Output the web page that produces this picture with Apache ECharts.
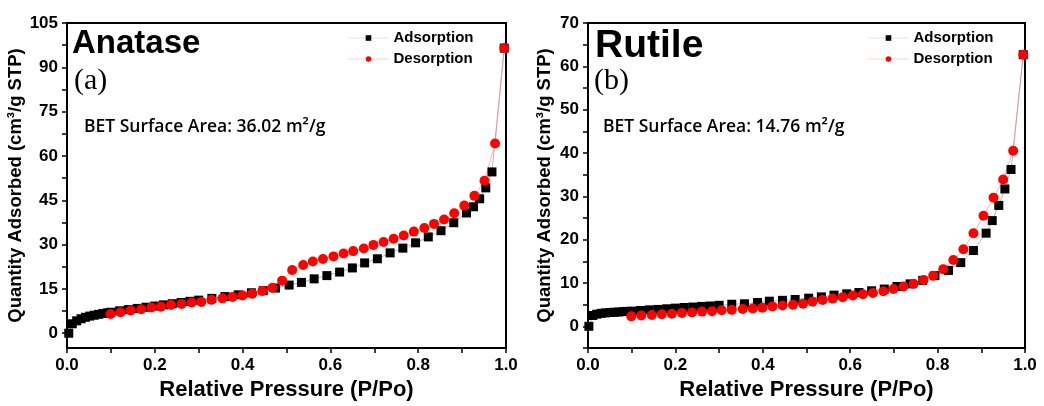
<!DOCTYPE html>
<html lang="en">
<head>
    <meta charset="utf-8">
    <title>BET isotherms - Anatase / Rutile</title>
    <script src="https://cdn.jsdelivr.net/npm/echarts@6/dist/echarts.min.js"></script>
    <style>
        html, body { margin: 0; padding: 0; background: #fff; }
        #chart { width: 1044px; height: 406px; }
    </style>
</head>
<body>
    <div id="chart"></div>
    <script>
        // Anatase (a)
        const anaAdsX = [0.004, 0.012, 0.022, 0.032, 0.042, 0.052, 0.062, 0.072, 0.082, 0.092, 0.10, 0.12, 0.14, 0.16, 0.18, 0.20, 0.22, 0.24, 0.26, 0.28, 0.30, 0.33, 0.36, 0.39, 0.42, 0.447, 0.475, 0.506, 0.534, 0.563, 0.592, 0.621, 0.650, 0.678, 0.707, 0.736, 0.765, 0.794, 0.823, 0.852, 0.881, 0.910, 0.926, 0.940, 0.954, 0.968, 0.996];
        const anaAdsY = [0, 3.2, 4.2, 4.9, 5.4, 5.8, 6.1, 6.4, 6.7, 6.9, 7.1, 7.6, 8.0, 8.4, 8.8, 9.2, 9.6, 10.0, 10.4, 10.8, 11.2, 11.8, 12.4, 13.0, 13.7, 14.4, 15.3, 16.3, 17.2, 18.4, 19.5, 20.7, 22.1, 23.8, 25.2, 27.2, 28.8, 30.6, 32.6, 34.7, 37.4, 40.7, 42.8, 45.5, 49.2, 54.6, 96.5];
        const anaDesX = [0.099, 0.122, 0.145, 0.169, 0.192, 0.214, 0.237, 0.261, 0.284, 0.306, 0.329, 0.354, 0.377, 0.400, 0.422, 0.445, 0.468, 0.490, 0.513, 0.538, 0.560, 0.583, 0.607, 0.630, 0.652, 0.676, 0.698, 0.721, 0.744, 0.767, 0.790, 0.814, 0.836, 0.859, 0.882, 0.905, 0.928, 0.951, 0.975, 0.996];
        const anaDesY = [6.5, 7.1, 7.7, 8.1, 8.7, 9.0, 9.6, 9.9, 10.4, 10.6, 11.3, 11.8, 12.3, 12.8, 13.4, 14.3, 15.4, 17.8, 21.4, 23.1, 24.3, 25.1, 26.0, 27.0, 27.8, 28.7, 29.9, 30.9, 32.0, 33.1, 34.4, 35.6, 37.0, 38.5, 40.6, 43.2, 46.5, 51.6, 64.2, 96.5];

        // Rutile (b)
        const rutAdsX = [0.002, 0.011, 0.02, 0.03, 0.04, 0.05, 0.06, 0.07, 0.08, 0.09, 0.10, 0.12, 0.14, 0.16, 0.18, 0.20, 0.22, 0.24, 0.26, 0.28, 0.30, 0.329, 0.358, 0.388, 0.415, 0.445, 0.474, 0.505, 0.534, 0.563, 0.592, 0.620, 0.649, 0.678, 0.707, 0.737, 0.766, 0.794, 0.825, 0.853, 0.882, 0.911, 0.925, 0.940, 0.954, 0.968, 0.996];
        const rutAdsY = [0, 2.5, 2.8, 3.0, 3.1, 3.2, 3.25, 3.3, 3.4, 3.45, 3.5, 3.65, 3.8, 3.9, 4.05, 4.2, 4.35, 4.45, 4.6, 4.7, 4.85, 5.1, 5.2, 5.5, 5.8, 6.0, 6.2, 6.5, 6.8, 7.2, 7.5, 7.8, 8.2, 8.6, 9.2, 9.8, 10.6, 11.7, 12.9, 14.7, 17.5, 21.5, 24.4, 27.9, 31.7, 36.2, 62.7];
        const rutDesX = [0.099, 0.122, 0.146, 0.169, 0.192, 0.215, 0.238, 0.261, 0.284, 0.306, 0.329, 0.354, 0.377, 0.399, 0.422, 0.445, 0.469, 0.492, 0.514, 0.537, 0.560, 0.583, 0.606, 0.629, 0.652, 0.676, 0.699, 0.722, 0.745, 0.768, 0.790, 0.813, 0.836, 0.859, 0.882, 0.905, 0.928, 0.950, 0.973, 0.996];
        const rutDesY = [2.3, 2.5, 2.6, 2.8, 2.9, 3.1, 3.2, 3.4, 3.5, 3.7, 3.8, 4.0, 4.1, 4.3, 4.6, 4.8, 5.0, 5.2, 5.7, 6.1, 6.4, 6.7, 7.1, 7.4, 7.7, 8.1, 8.6, 9.2, 9.8, 10.7, 11.7, 13.2, 15.3, 17.8, 21.5, 25.5, 29.7, 33.9, 40.5, 62.7];

        const anaTicks = [0, 7.5, 15, 22.5, 30, 37.5, 45, 52.5, 60, 67.5, 75, 82.5, 90, 97.5, 105];
        const anaLabels = [0, 15, 30, 45, 60, 75, 90, 105];

        const pair = (xs, ys) => xs.map((x, i) => [x, ys[i]]);
        const FONT = 'Liberation Sans, Arial, sans-serif';

        const chart = echarts.init(document.getElementById('chart'));

        function xAxisFor(idx) {
            return {
                gridIndex: idx, type: 'value', min: 0, max: 1, interval: 0.1,
                name: 'Relative Pressure (P/Po)', nameLocation: 'middle', nameGap: 31,
                nameTextStyle: { fontFamily: FONT, fontWeight: 'bold', fontSize: 22, color: '#000' },
                axisLine: { onZero: false, lineStyle: { color: '#000', width: 2 } },
                axisTick: { length: 5, lineStyle: { color: '#000', width: 1.5 } },
                axisLabel: {
                    margin: 9, fontFamily: FONT, fontWeight: 'bold', fontSize: 17, color: '#000',
                    formatter: v => Math.round(v * 10) % 2 === 0 ? v.toFixed(1) : ''
                },
                splitLine: { show: false }
            };
        }

        function legendFor(left) {
            return {
                left: left, top: 25, orient: 'vertical', itemWidth: 40, itemHeight: 7, itemGap: 5,
                data: [
                    { name: 'Adsorption', lineStyle: { color: '#e6e6e6', width: 1 } },
                    { name: 'Desorption', lineStyle: { color: '#ffd0d0', width: 1 } }
                ],
                textStyle: { fontFamily: FONT, fontWeight: 'bold', fontSize: 15, color: '#000', lineHeight: 16, padding: [0, 0, 0, 0] }
            };
        }

        const yName = 'Quantity Adsorbed (cm³/g STP)';
        const yNameStyle = { fontFamily: FONT, fontWeight: 'bold', fontSize: 18.5, color: '#000' };
        const betFont = '600 17.5px Open Sans, sans-serif';

        const option = {
            animation: false,
            grid: [
                { left: 67, top: 23, width: 439, height: 325, show: true, borderColor: '#000', borderWidth: 2 },
                { left: 588, top: 23, width: 437, height: 325, show: true, borderColor: '#000', borderWidth: 2 }
            ],
            xAxis: [xAxisFor(0), xAxisFor(1)],
            yAxis: [
                {
                    gridIndex: 0, type: 'value', min: -5, max: 105,
                    name: yName, nameLocation: 'middle', nameGap: 35, nameTextStyle: yNameStyle,
                    axisLine: { show: true, onZero: false, lineStyle: { color: '#000', width: 2 } },
                    axisTick: { show: true, length: 5, customValues: anaTicks, lineStyle: { color: '#000', width: 1.5 } },
                    axisLabel: { customValues: anaLabels, margin: 9, fontFamily: FONT, fontWeight: 'bold', fontSize: 17, color: '#000' },
                    splitLine: { show: false }
                },
                {
                    gridIndex: 1, type: 'value', min: -5, max: 70, interval: 5,
                    name: yName, nameLocation: 'middle', nameGap: 34, nameTextStyle: yNameStyle,
                    axisLine: { show: true, onZero: false, lineStyle: { color: '#000', width: 2 } },
                    axisTick: { show: true, length: 5, lineStyle: { color: '#000', width: 1.5 } },
                    axisLabel: {
                        margin: 9, fontFamily: FONT, fontWeight: 'bold', fontSize: 17, color: '#000',
                        formatter: v => (v >= 0 && v % 10 === 0) ? String(v) : ''
                    },
                    splitLine: { show: false }
                }
            ],
            legend: [legendFor(343), legendFor(863)],
            series: [
                {
                    name: 'Adsorption', type: 'line', xAxisIndex: 0, yAxisIndex: 0,
                    data: pair(anaAdsX, anaAdsY), symbol: 'rect', symbolSize: 9,
                    itemStyle: { color: '#000' }, lineStyle: { color: '#888', width: 0.6 }
                },
                {
                    name: 'Desorption', type: 'line', xAxisIndex: 0, yAxisIndex: 0,
                    data: pair(anaDesX, anaDesY), symbol: 'circle', symbolSize: 10,
                    itemStyle: { color: '#ff0000' }, lineStyle: { color: '#ff8080', width: 0.6 }
                },
                {
                    name: 'Adsorption', type: 'line', xAxisIndex: 1, yAxisIndex: 1,
                    data: pair(rutAdsX, rutAdsY), symbol: 'rect', symbolSize: 9,
                    itemStyle: { color: '#000' }, lineStyle: { color: '#888', width: 0.6 }
                },
                {
                    name: 'Desorption', type: 'line', xAxisIndex: 1, yAxisIndex: 1,
                    data: pair(rutDesX, rutDesY), symbol: 'circle', symbolSize: 10,
                    itemStyle: { color: '#ff0000' }, lineStyle: { color: '#ff8080', width: 0.6 }
                }
            ],
            graphic: [
                { type: 'text', left: 72, top: 27, style: { text: 'Anatase', font: 'bold 33px ' + FONT, fill: '#000' } },
                { type: 'text', left: 74, top: 66, style: { text: '(a)', font: '30px Liberation Serif, Times New Roman, serif', fill: '#000' } },
                { type: 'text', left: 84, top: 118, style: { text: 'BET Surface Area: 36.02 m²/g', font: betFont, fill: '#000' } },
                { type: 'text', left: 595, top: 27, style: { text: 'Rutile', font: 'bold 39px ' + FONT, fill: '#000' } },
                { type: 'text', left: 594, top: 66, style: { text: '(b)', font: '30px Liberation Serif, Times New Roman, serif', fill: '#000' } },
                { type: 'text', left: 603, top: 118, style: { text: 'BET Surface Area: 14.76 m²/g', font: betFont, fill: '#000' } }
            ]
        };

        chart.setOption(option);
    </script>
</body>
</html>
